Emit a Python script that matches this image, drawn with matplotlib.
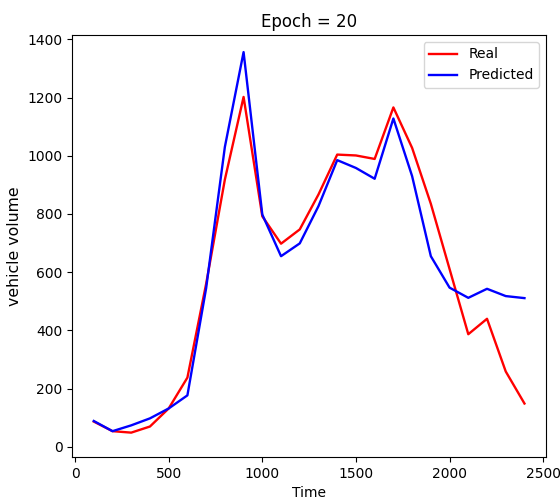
import matplotlib
matplotlib.use("Agg")
import matplotlib.pyplot as plt

time = [100, 200, 300, 400, 500, 600, 700, 800, 900, 1000, 1100, 1200,
        1300, 1400, 1500, 1600, 1700, 1800, 1900, 2000, 2100, 2200, 2300, 2400]
real = [87, 54, 49, 70, 132, 238, 560, 918, 1202, 792, 698, 747,
        867, 1004, 1001, 989, 1166, 1027, 835, 611, 387, 440, 259, 149]
predicted = [89, 54, 74, 98, 132, 177, 545, 1030, 1356, 798, 655, 699,
             827, 985, 958, 921, 1128, 930, 655, 547, 512, 543, 518, 511]

fig = plt.figure(figsize=(5.6, 4.99), dpi=100)
ax = fig.add_axes([0.129, 0.084, 0.846, 0.846])
ax.plot(time, real, color="red", label="Real", linewidth=1.7)
ax.plot(time, predicted, color="blue", label="Predicted", linewidth=1.7)
ax.set_xlim(-15, 2515)
ax.set_ylim(-35, 1415)
ax.set_xticks([0, 500, 1000, 1500, 2000, 2500])
ax.set_yticks([0, 200, 400, 600, 800, 1000, 1200, 1400])
ax.set_title("Epoch = 20")
ax.set_xlabel("Time")
ax.set_ylabel("vehicle volume", fontsize=11.3)
ax.legend(loc="upper right")
fig.savefig("out.png", dpi=100)
